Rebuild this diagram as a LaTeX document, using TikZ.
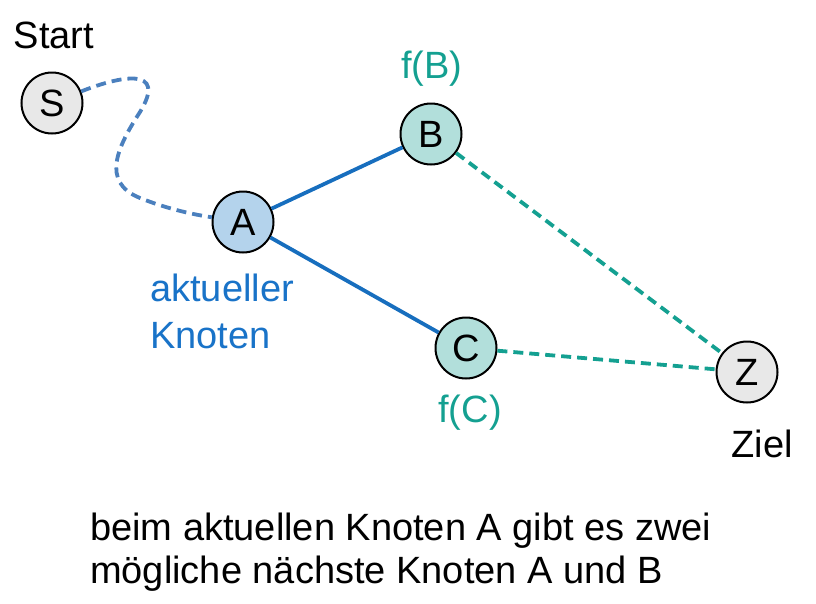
\documentclass[tikz,border=0pt]{standalone}
\usepackage{fontspec}
\setmainfont{Liberation Sans}
\usetikzlibrary{calc}
\definecolor{greyfill}{RGB}{232,232,232}
\definecolor{afill}{RGB}{180,211,236}
\definecolor{bcfill}{RGB}{178,223,219}
\definecolor{tealc}{RGB}{20,160,145}
\definecolor{bluetext}{RGB}{25,115,200}
\definecolor{edgeblue}{RGB}{23,110,190}
\definecolor{pathblue}{RGB}{75,128,190}
\tikzset{
  knot/.style={circle,draw=black,line width=2pt,minimum size=61pt,inner sep=0pt,
    font=\fontsize{38}{44}\selectfont},
  lbl/.style={font=\fontsize{38}{47}\selectfont,inner sep=0pt},
  solidedge/.style={edgeblue,line width=3.8pt},
  dashedge/.style={tealc,line width=3.8pt,dash pattern=on 10pt off 6pt},
}
\begin{document}
\begin{tikzpicture}[x=1pt,y=-1pt]
  \useasboundingbox (0,0) rectangle (816,603);
  \node[knot,fill=greyfill] (S) at (52,103) {S};
  \node[knot,fill=afill] (A) at (243,222) {A};
  \node[knot,fill=bcfill] (B) at (431,134) {B};
  \node[knot,fill=bcfill] (C) at (466,348) {C};
  \node[knot,fill=greyfill] (Z) at (747,372) {Z};
  \draw[pathblue,line width=3.8pt,dash pattern=on 10pt off 6pt]
    (S) .. controls (120,76) and (168,66) .. (140,112)
        .. controls (118,146) and (100,182) .. (140,198)
        .. controls (165,208) and (190,214) .. (A);
  \draw[solidedge] (A)--(B);
  \draw[solidedge] (A)--(C);
  \draw[dashedge] (B)--(Z);
  \draw[dashedge] (C)--(Z);
  \node[lbl,anchor=base] (start) at (54,48) {Start};
  \node[lbl,anchor=base,text=tealc] (fb) at (432,78) {f(B)};
  \node[lbl,anchor=base,text=tealc] (fc) at (470,422) {f(C)};
  \node[lbl,anchor=base] (ziel) at (762,457) {Ziel};
  \node[lbl,anchor=base west,align=left,text=bluetext] (akt) at (150,348) {aktueller\\Knoten};
  \node[lbl,anchor=base west,align=left,font=\fontsize{38}{43}\selectfont] (txt) at (90,583)
    {beim aktuellen Knoten A gibt es zwei\\m\"ogliche n\"achste Knoten A und B};
\end{tikzpicture}
\end{document}
